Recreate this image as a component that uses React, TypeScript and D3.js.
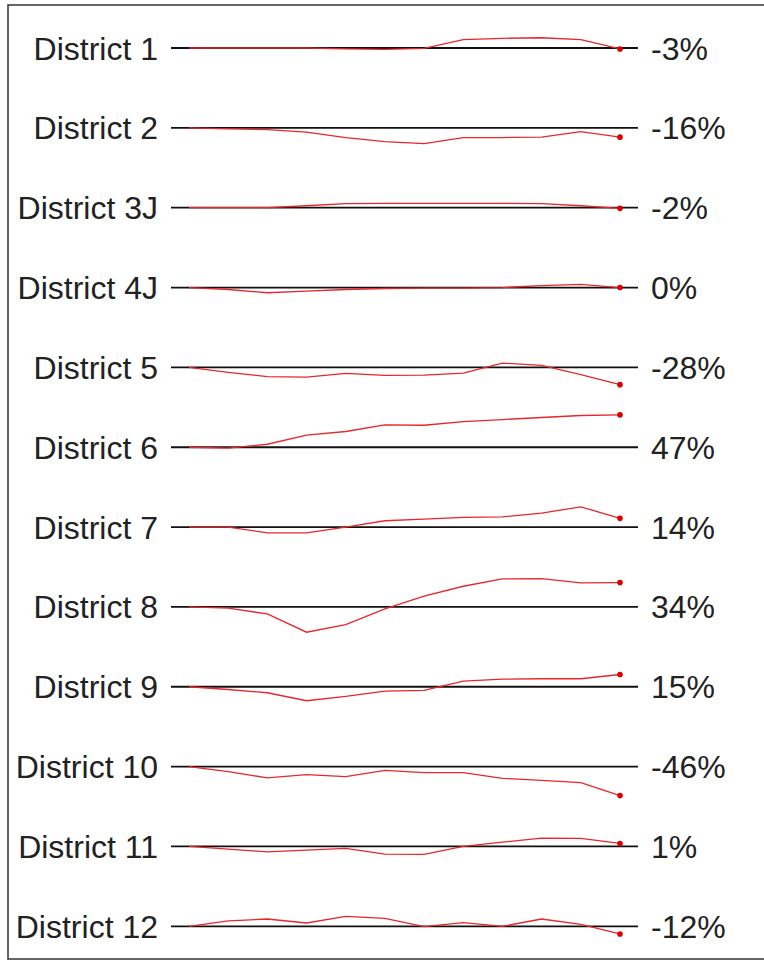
import { useMemo } from "react";
import * as d3 from "d3";

const districts = [
  "District 1",
  "District 2",
  "District 3J",
  "District 4J",
  "District 5",
  "District 6",
  "District 7",
  "District 8",
  "District 9",
  "District 10",
  "District 11",
  "District 12",
];

// change vs. first period
const d1 = [0, 0, 0, 0, -1.5, -2, -0.5, 12.8, 14.9, 15.8, 12.8, -1.5];
const d2 = [0, -1.5, -2.6, -6.6, -14.9, -21.1, -24.2, -14.9, -14.9, -14.3, -5.7, -14.3];
const d3j = [0, 0, 0, 3, 6.2, 6.6, 6.6, 6.6, 6.6, 6.2, 3, -1];
const d4j = [0, -3, -8, -5.5, -3, -1.5, -1, -1, 0, 3, 5, 0];
const d5 = [0, -7.7, -14.3, -14.9, -9.2, -12.3, -11.8, -8.8, 6.6, 3.1, -11.2, -26.6];
const d6 = [0, -1.5, 4.6, 18.5, 24.2, 34.3, 33.8, 39.5, 42.6, 45.7, 48.8, 49.7];
const d7 = [0, 0, -8.8, -8.8, 0, 9.7, 12.3, 14.9, 15.8, 21.5, 31.2, 13.4];
const d8 = [0, -2, -10.8, -38.9, -27.2, -3.1, 16.5, 31.8, 43.1, 43.5, 36.9, 37.4];
const d9 = [0, -4.2, -9.2, -21.5, -14.9, -6.6, -5.7, 8.8, 11.8, 12.3, 12.3, 18.9];
const d10 = [0, -7.7, -17.4, -12.3, -15.4, -5.7, -9.2, -9.2, -18, -21.1, -24.6, -44.6];
const d11 = [0, -4.2, -8.2, -5.7, -3.1, -11.8, -12.3, 0, 6.6, 12.8, 12.3, 4.6];
const d12 = [0, 8.2, 11.2, 5.1, 15.4, 12.3, -0.5, 5.7, 0, 11.2, 3.1, -11.8];

const series = [d1, d2, d3j, d4j, d5, d6, d7, d8, d9, d10, d11, d12];
const changeLabels = ["-3%", "-16%", "-2%", "0%", "-28%", "47%", "14%", "34%", "15%", "-46%", "1%", "-12%"];

const W = 764;
const H = 963;
const FONT = "'Liberation Sans', Arial, sans-serif";

export default function App() {
  const rowY = useMemo(
    () => d3.scalePoint<string>().domain(districts).range([48, 926.3]),
    []
  );
  const x = useMemo(
    () => d3.scalePoint<number>().domain(d3.range(12)).range([189, 620]),
    []
  );
  // shared vertical scale for the sparkline offsets
  const dy = useMemo(() => d3.scaleLinear().domain([-50, 50]).range([32.5, -32.5]), []);

  return (
    <div style={{ position: "absolute", left: 0, top: 0 }}>
      <svg width={W} height={H} style={{ display: "block", background: "#fff" }}>
        <rect x={8} y={5} width={W} height={954} fill="none" stroke="#333" strokeWidth={1.5} />
        {districts.map((name, i) => {
          const y0 = rowY(name) ?? 0;
          const vals = series[i];
          const line = d3
            .line<number>()
            .x((_, j) => x(j) ?? 0)
            .y((v) => y0 + dy(v));
          const last = vals.length - 1;
          return (
            <g key={name}>
              <text
                x={158}
                y={y0}
                dy="0.36em"
                textAnchor="end"
                fontFamily={FONT}
                fontSize={32}
                fill="#222"
              >
                {name}
              </text>
              <line x1={171} x2={638} y1={y0} y2={y0} stroke="#111" strokeWidth={1.8} />
              <path d={line(vals) ?? ""} fill="none" stroke="#e8262b" strokeWidth={1.3} />
              <circle cx={x(last) ?? 0} cy={y0 + dy(vals[last])} r={2.8} fill="#d90000" />
              <text
                x={651}
                y={y0}
                dy="0.36em"
                fontFamily={FONT}
                fontSize={32}
                fill="#222"
              >
                {changeLabels[i]}
              </text>
            </g>
          );
        })}
      </svg>
    </div>
  );
}
